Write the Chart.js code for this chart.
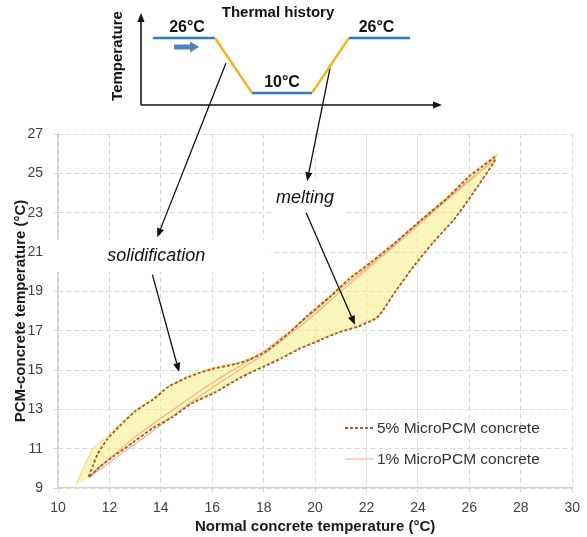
<!DOCTYPE html>
<html>
<head>
<meta charset="utf-8">
<script src="https://cdn.jsdelivr.net/npm/chart.js@4.4.1/dist/chart.umd.min.js"></script>
<style>
html, body { margin: 0; padding: 0; background: #fff; }
#wrap { position: relative; width: 587px; height: 537px; }
#main { position: absolute; left: 0; top: 0; }
#inset { position: absolute; left: 100px; top: 0; }
</style>
</head>
<body>
<div id="wrap">
<canvas id="main" width="587" height="537"></canvas>
<canvas id="inset" width="350" height="115"></canvas>
</div>
<script>
var FONT = "'Liberation Sans', Arial, sans-serif";

// 5% MicroPCM: cooling from 26 (upper branch) then heating back (lower branch)
var pcm5X = [27.0, 26.5, 26.0, 25.1, 24.1, 23.1, 22.2, 21.3, 20.6, 19.7, 19.0, 18.1, 17.4, 16.9, 16.0, 15.5, 15.0, 14.3, 13.7, 13.0, 12.4, 11.9, 11.55, 11.35, 11.2,
    11.6, 12.15, 12.9, 13.7, 14.45, 15.2, 16.1, 17.15, 18.05, 18.7, 19.35, 20.25, 20.9, 21.65, 22.1, 22.4, 22.65, 23.1, 23.85, 24.6, 25.4, 26.15, 26.95, 27.0];
var pcm5Y = [25.85, 25.35, 24.85, 23.7, 22.6, 21.45, 20.5, 19.6, 18.75, 17.75, 16.9, 15.95, 15.5, 15.3, 15.05, 14.85, 14.6, 14.15, 13.5, 12.9, 12.15, 11.45, 10.75, 10.1, 9.55,
    10.05, 10.6, 11.3, 12.05, 12.6, 13.3, 13.85, 14.65, 15.2, 15.6, 16.05, 16.55, 16.9, 17.2, 17.45, 17.65, 18.05, 18.95, 20.3, 21.5, 22.65, 24.0, 25.55, 25.7];

// 1% MicroPCM: narrow loop
var pcm1X = [27.0, 26.0, 25.0, 24.0, 23.0, 22.0, 21.0, 20.0, 19.0, 18.0, 17.0, 16.0, 15.0, 14.0, 13.0, 12.0, 11.2,
    12.0, 13.0, 14.0, 15.0, 16.0, 17.0, 18.0, 19.0, 20.0, 21.0, 22.0, 23.0, 24.0, 25.0, 26.0, 27.0];
var pcm1Y = [25.8, 24.7, 23.55, 22.45, 21.3, 20.2, 19.15, 18.0, 16.95, 15.95, 15.15, 14.35, 13.45, 12.55, 11.6, 10.5, 9.55,
    10.3, 11.25, 12.2, 13.2, 14.1, 14.95, 15.8, 16.8, 17.85, 19.0, 20.1, 21.2, 22.35, 23.5, 24.6, 25.7];

// yellow hysteresis area
var bandX = [10.7, 11.05, 11.35, 11.9, 12.4, 13.0, 13.7, 14.3, 15.0, 15.5, 16.0, 16.9, 17.4, 18.1, 19.0, 19.7, 20.6, 21.3, 22.2, 23.1,
    24.1, 25.1, 26.0, 27.1, 26.95, 26.15, 25.4, 24.6, 23.85, 23.1, 22.65, 22.4, 21.65, 20.9, 20.25, 19.35, 18.7, 18.05, 17.15, 16.1,
    15.2, 14.45, 13.7, 12.9, 12.15, 11.6, 11.2];
var bandY = [9.15, 10.2, 11.0, 11.6, 12.25, 12.95, 13.55, 14.2, 14.65, 14.9, 15.1, 15.35, 15.55, 16.0, 16.95, 17.8, 18.8, 19.65, 20.55, 21.5,
    22.65, 23.75, 24.9, 26.0, 25.55, 24.0, 22.65, 21.5, 20.3, 18.95, 18.05, 17.65, 17.25, 16.95, 16.6, 16.1, 15.65, 15.25, 14.7, 13.9,
    13.35, 12.65, 12.1, 11.3, 10.6, 10.05, 9.5];

var xTicks = [10, 12, 14, 16, 18, 20, 22, 24, 26, 28, 30];
var yTicks = [9, 11, 13, 15, 17, 19, 21, 23, 25, 27];

// thermal history inset (schematic)
var historyT = [0.4, 2.46, 3.69, 5.68, 6.91, 8.94];
var historyTemp = [26, 26, 10, 10, 26, 26];
var historyLabels = ['26°C', '10°C', '26°C'];

function pts(xs, ys) {
    return xs.map(function (x, i) { return { x: x, y: ys[i] }; });
}

function arrow(ctx, x1, y1, x2, y2) {
    var a = Math.atan2(y2 - y1, x2 - x1), L = 9, W = 3.6;
    ctx.beginPath();
    ctx.moveTo(x1, y1);
    ctx.lineTo(x2 - L * Math.cos(a), y2 - L * Math.sin(a));
    ctx.stroke();
    ctx.beginPath();
    ctx.moveTo(x2, y2);
    ctx.lineTo(x2 - L * Math.cos(a) + W * Math.sin(a), y2 - L * Math.sin(a) - W * Math.cos(a));
    ctx.lineTo(x2 - L * Math.cos(a) - W * Math.sin(a), y2 - L * Math.sin(a) + W * Math.cos(a));
    ctx.closePath();
    ctx.fill();
}

// labels / arrows in data coordinates of the main chart
var notes = [
    { text: 'solidification', x: 13.82, y: 20.8 },
    { text: 'melting', x: 19.61, y: 23.75 }
];
var arrows = [
    [16.53, 30.6, 13.86, 21.75],
    [20.58, 30.35, 19.69, 24.6],
    [13.67, 19.85, 14.71, 14.9],
    [19.65, 23.0, 21.55, 17.3]
];
var whiteBoxes = [
    [9.6, 21.62, 18.28, 19.98],
    [18.3, 24.8, 21.1, 22.25]
];

var annotate = {
    id: 'annotate',
    beforeDatasetsDraw: function (chart) {
        var ctx = chart.ctx, sx = chart.scales.x, sy = chart.scales.y;
        ctx.save();
        ctx.fillStyle = '#fff';
        whiteBoxes.forEach(function (b) {
            var x1 = sx.getPixelForValue(b[0]), y1 = sy.getPixelForValue(b[1]);
            var x2 = sx.getPixelForValue(b[2]), y2 = sy.getPixelForValue(b[3]);
            ctx.fillRect(x1, y1, x2 - x1, y2 - y1);
        });
        ctx.restore();
    },
    afterDatasetsDraw: function (chart) {
        var ctx = chart.ctx, sx = chart.scales.x, sy = chart.scales.y;
        ctx.save();
        ctx.font = 'italic 18px ' + FONT;
        ctx.fillStyle = '#111';
        ctx.textAlign = 'center';
        ctx.textBaseline = 'middle';
        notes.forEach(function (n) {
            ctx.fillText(n.text, sx.getPixelForValue(n.x), sy.getPixelForValue(n.y));
        });
        ctx.strokeStyle = '#111';
        ctx.lineWidth = 1.3;
        arrows.forEach(function (a) {
            arrow(ctx, sx.getPixelForValue(a[0]), sy.getPixelForValue(a[1]),
                sx.getPixelForValue(a[2]), sy.getPixelForValue(a[3]));
        });

        // legend
        ctx.font = '15.5px ' + FONT;
        ctx.textAlign = 'left';
        ctx.fillStyle = '#333';
        [0, 1].forEach(function (i, k) {
            var ds = chart.data.datasets[i];
            var y = 428 + k * 31;
            ctx.save();
            ctx.strokeStyle = ds.borderColor;
            ctx.lineWidth = ds.borderWidth;
            ctx.setLineDash(ds.borderDash || []);
            ctx.beginPath();
            ctx.moveTo(345, y);
            ctx.lineTo(374, y);
            ctx.stroke();
            ctx.restore();
            ctx.fillText(ds.label, 377, y + 1);
        });
        ctx.restore();
    }
};

new Chart(document.getElementById('main').getContext('2d'), {
    type: 'scatter',
    data: {
        datasets: [{
            label: '5% MicroPCM concrete',
            data: pts(pcm5X, pcm5Y),
            showLine: true,
            borderColor: '#A05A2C',
            borderWidth: 1.8,
            borderDash: [3, 2],
            pointRadius: 0,
            tension: 0.2,
            fill: false
        }, {
            label: '1% MicroPCM concrete',
            data: pts(pcm1X, pcm1Y),
            showLine: true,
            borderColor: '#F2B48F',
            borderWidth: 1.2,
            pointRadius: 0,
            tension: 0.2,
            fill: false
        }, {
            label: 'hysteresis',
            data: pts(bandX, bandY),
            showLine: true,
            borderColor: 'rgba(232, 212, 90, 0.9)',
            backgroundColor: 'rgba(245, 238, 120, 0.5)',
            borderWidth: 1,
            pointRadius: 0,
            fill: 'shape'
        }]
    },
    options: {
        responsive: false,
        animation: false,
        devicePixelRatio: 1,
        layout: { padding: { top: 134, right: 11, left: 0, bottom: 0 } },
        plugins: {
            legend: { display: false },
            tooltip: { enabled: false }
        },
        scales: {
            x: {
                type: 'linear',
                min: 10,
                max: 30,
                afterBuildTicks: function (s) { s.ticks = xTicks.map(function (v) { return { value: v }; }); },
                afterFit: function (s) { s.height = 49; },
                ticks: { color: '#404040', font: { size: 14, family: FONT }, padding: 7, maxRotation: 0, autoSkip: false },
                grid: { color: '#d9d9d9', lineWidth: 1, tickLength: 5 },
                border: { color: '#d0d0d0', width: 1.3, dash: [5, 3] },
                title: {
                    display: true, text: 'Normal concrete temperature (°C)', color: '#1a1a1a',
                    font: { size: 15, weight: 'bold', family: FONT }, padding: { top: 0, bottom: 1 }
                }
            },
            y: {
                type: 'linear',
                min: 9,
                max: 27,
                afterBuildTicks: function (s) { s.ticks = yTicks.map(function (v) { return { value: v }; }); },
                afterFit: function (s) { s.width = 58; },
                ticks: { color: '#404040', font: { size: 14, family: FONT }, padding: 10 },
                grid: { color: '#d9d9d9', lineWidth: 1, tickLength: 5 },
                border: { color: '#d0d0d0', width: 1.3, dash: [5, 3] },
                title: {
                    display: true, text: 'PCM-concrete temperature (°C)', color: '#1a1a1a',
                    font: { size: 15, weight: 'bold', family: FONT }, padding: { top: 12, bottom: 0 }
                }
            }
        }
    },
    plugins: [annotate]
});

// thermal history inset
var insetDeco = {
    id: 'insetDeco',
    beforeDatasetsDraw: function (chart) {
        var ctx = chart.ctx, a = chart.chartArea;
        ctx.save();
        ctx.strokeStyle = '#111';
        ctx.fillStyle = '#111';
        ctx.lineWidth = 1.5;
        arrow(ctx, a.left, a.bottom, a.left, a.top - 2);
        arrow(ctx, a.left, a.bottom, a.right, a.bottom);
        ctx.restore();
    },
    afterDatasetsDraw: function (chart) {
        var ctx = chart.ctx, sx = chart.scales.x, sy = chart.scales.y;
        ctx.save();
        ctx.fillStyle = '#111';
        ctx.textAlign = 'center';
        ctx.textBaseline = 'middle';
        ctx.font = 'bold 15px ' + FONT;
        ctx.fillText('Thermal history', 178, 13);
        ctx.save();
        ctx.translate(18, 56);
        ctx.rotate(-Math.PI / 2);
        ctx.fillText('Temperature', 0, 0);
        ctx.restore();
        ctx.font = 'bold 16px ' + FONT;
        [0, 2, 4].forEach(function (i, k) {
            var xm = (sx.getPixelForValue(historyT[i]) + sx.getPixelForValue(historyT[i + 1])) / 2;
            var y = sy.getPixelForValue(historyTemp[i]);
            ctx.fillText(historyLabels[k], xm + [3, 0, -3][k], y - 10);
        });
        // blue direction arrow
        var x0 = sx.getPixelForValue(1.1), x1 = sx.getPixelForValue(1.93), yc = sy.getPixelForValue(23.4);
        ctx.fillStyle = '#4F81BD';
        ctx.beginPath();
        ctx.moveTo(x0, yc - 2.5);
        ctx.lineTo(x1 - 9, yc - 2.5);
        ctx.lineTo(x1 - 9, yc - 5.5);
        ctx.lineTo(x1, yc);
        ctx.lineTo(x1 - 9, yc + 5.5);
        ctx.lineTo(x1 - 9, yc + 2.5);
        ctx.lineTo(x0, yc + 2.5);
        ctx.closePath();
        ctx.fill();
        ctx.restore();
    }
};

new Chart(document.getElementById('inset').getContext('2d'), {
    type: 'scatter',
    data: {
        datasets: [{
            label: 'Thermal history',
            data: pts(historyT, historyTemp),
            showLine: true,
            borderWidth: 2.5,
            pointRadius: 0,
            borderColor: '#2F7BC4',
            segment: {
                borderColor: function (c) { return c.p0DataIndex % 2 === 0 ? '#2F7BC4' : '#F5B324'; }
            }
        }]
    },
    options: {
        responsive: false,
        animation: false,
        devicePixelRatio: 1,
        layout: { padding: { left: 41, right: 8, top: 15, bottom: 10 } },
        plugins: { legend: { display: false }, tooltip: { enabled: false } },
        scales: {
            x: { type: 'linear', display: false, min: 0, max: 10 },
            y: { type: 'linear', display: false, min: 6.5, max: 32.7 }
        }
    },
    plugins: [insetDeco]
});
</script>
</body>
</html>
